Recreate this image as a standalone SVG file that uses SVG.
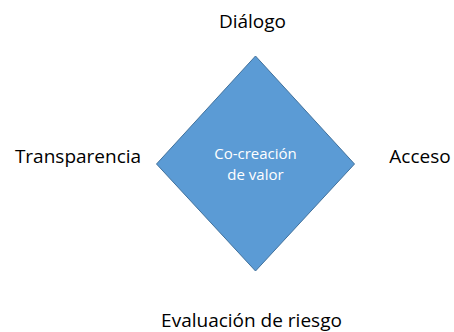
<svg xmlns="http://www.w3.org/2000/svg" width="454" height="332" viewBox="0 0 454 332">
<style>
.lbl{font-family:"Open Sans","Liberation Sans",sans-serif;font-size:19px;fill:#000;text-anchor:middle}
.in{font-family:"Open Sans","Liberation Sans",sans-serif;font-size:15px;fill:#fff;text-anchor:middle}
</style>
<rect width="454" height="332" fill="#fff"/>
<g id="center">
<polygon points="255.5,56 354.5,164 255.5,271 156.5,164" fill="#5B9BD5" stroke="#41719C" stroke-width="1"/>
<text class="in" x="255.5" y="159">Co-creación</text>
<text class="in" x="255.5" y="180">de valor</text>
</g>
<g id="dialogo"><text class="lbl" x="252.5" y="28">Diálogo</text></g>
<g id="transparencia"><text class="lbl" x="78" y="163">Transparencia</text></g>
<g id="acceso"><text class="lbl" x="420" y="163">Acceso</text></g>
<g id="evaluacion"><text class="lbl" x="251.5" y="327">Evaluación de riesgo</text></g>
<g id="connectors"></g>
</svg>
